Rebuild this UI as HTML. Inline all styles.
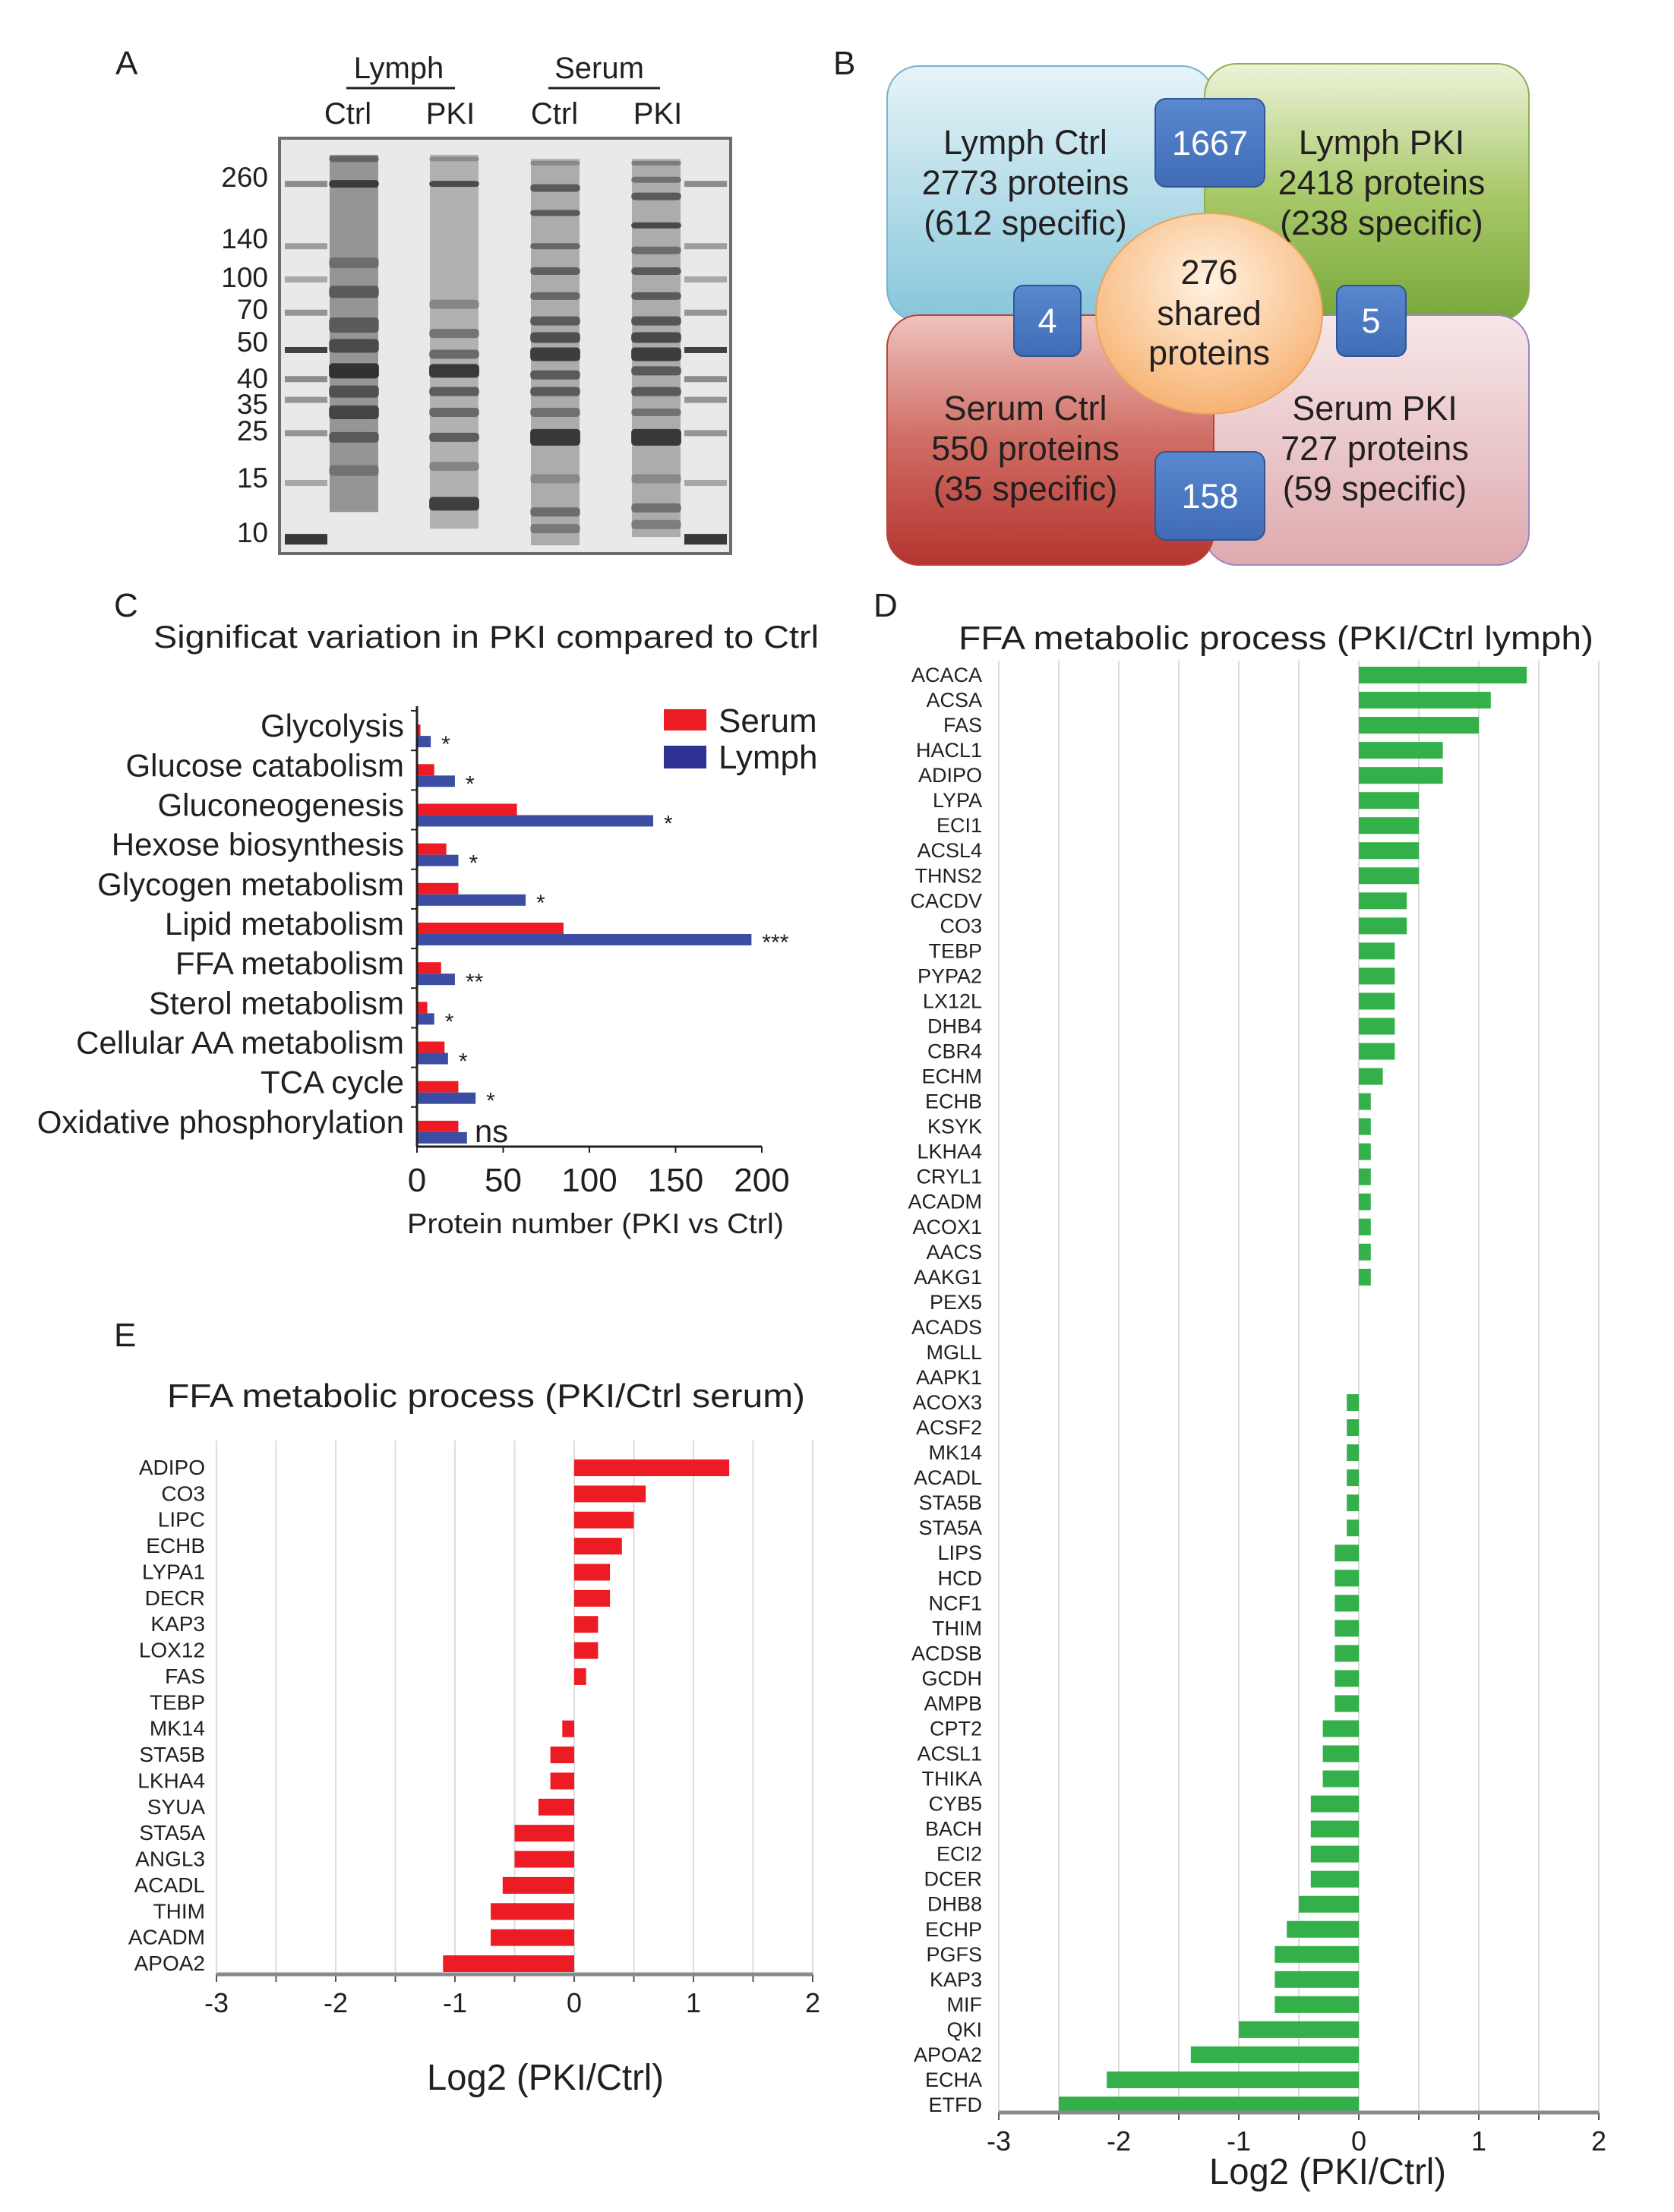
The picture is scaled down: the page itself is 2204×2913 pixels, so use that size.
<!DOCTYPE html>
<html><head><meta charset="utf-8">
<style>
html,body{margin:0;padding:0;background:#fff;}
svg{display:block;}
text{font-family:"Liberation Sans",Arial,sans-serif;fill:#231f20;}
.nar{font-family:"Liberation Sans Narrow","Liberation Sans",sans-serif;}
</style></head>
<body>
<svg id="fig" width="2204" height="2913" viewBox="0 0 2204 2913" xmlns="http://www.w3.org/2000/svg">
<defs>
  <linearGradient id="gBlue" x1="0" y1="0" x2="0" y2="1"><stop offset="0" stop-color="#e6f4f8"/><stop offset="1" stop-color="#86c6da"/></linearGradient>
  <linearGradient id="gGreen" x1="0" y1="0" x2="0" y2="1"><stop offset="0" stop-color="#eef3da"/><stop offset="0.5" stop-color="#a9c96a"/><stop offset="1" stop-color="#77a83a"/></linearGradient>
  <linearGradient id="gRed" x1="0" y1="0" x2="0" y2="1"><stop offset="0" stop-color="#efc3bd"/><stop offset="0.5" stop-color="#cf6d64"/><stop offset="1" stop-color="#b5342f"/></linearGradient>
  <linearGradient id="gPink" x1="0" y1="0" x2="0" y2="1"><stop offset="0" stop-color="#f7e7e8"/><stop offset="1" stop-color="#deaaae"/></linearGradient>
  <radialGradient id="gCirc" cx="0.5" cy="0.35" r="0.7"><stop offset="0" stop-color="#fff2e0"/><stop offset="1" stop-color="#f6ad6a"/></radialGradient>
  <linearGradient id="gBox" x1="0" y1="0" x2="0" y2="1"><stop offset="0" stop-color="#5a88cf"/><stop offset="1" stop-color="#3f6cb5"/></linearGradient>
</defs>

<!-- Panel A -->
<g>
  <text x="152" y="98" font-size="44">A</text>
  <text x="525" y="103" font-size="40" text-anchor="middle">Lymph</text>
  <line x1="456" y1="116" x2="599" y2="116" stroke="#231f20" stroke-width="3"/>
  <text x="789" y="103" font-size="40" text-anchor="middle">Serum</text>
  <line x1="722" y1="116" x2="869" y2="116" stroke="#231f20" stroke-width="3"/>
  <text x="458" y="163" font-size="40" text-anchor="middle">Ctrl</text>
  <text x="593" y="163" font-size="40" text-anchor="middle">PKI</text>
  <text x="730" y="163" font-size="40" text-anchor="middle">Ctrl</text>
  <text x="866" y="163" font-size="40" text-anchor="middle">PKI</text>
  <g id="gel"></g>
  <g id="markers"></g>
</g>

<!-- Panel B -->
<g>
  <text x="1097" y="98" font-size="44">B</text>
  <rect x="1168" y="87" width="430" height="336" rx="42" fill="url(#gBlue)" stroke="#7ab0d0" stroke-width="2"/>
  <rect x="1586" y="84" width="427" height="339" rx="42" fill="url(#gGreen)" stroke="#8cb050" stroke-width="2"/>
  <rect x="1586" y="415" width="427" height="329" rx="42" fill="url(#gPink)" stroke="#9a86c0" stroke-width="2"/>
  <rect x="1168" y="415" width="430" height="329" rx="42" fill="url(#gRed)" stroke="#b9423c" stroke-width="2"/>
  <ellipse cx="1592" cy="413" rx="149" ry="132" fill="url(#gCirc)" stroke="#e8a45e" stroke-width="2"/>
  <g font-size="45" text-anchor="middle">
    <text x="1350" y="203">Lymph Ctrl</text><text x="1350" y="256">2773 proteins</text><text x="1350" y="309">(612 specific)</text>
    <text x="1819" y="203">Lymph PKI</text><text x="1819" y="256">2418 proteins</text><text x="1819" y="309">(238 specific)</text>
    <text x="1350" y="553">Serum Ctrl</text><text x="1350" y="606">550 proteins</text><text x="1350" y="659">(35 specific)</text>
    <text x="1810" y="553">Serum PKI</text><text x="1810" y="606">727 proteins</text><text x="1810" y="659">(59 specific)</text>
    <text x="1592" y="374">276</text><text x="1592" y="428">shared</text><text x="1592" y="480">proteins</text>
  </g>
  <rect x="1521" y="130" width="144" height="116" rx="14" fill="url(#gBox)" stroke="#2f5597" stroke-width="2"/>
  <rect x="1335" y="376" width="88" height="93" rx="12" fill="url(#gBox)" stroke="#2f5597" stroke-width="2"/>
  <rect x="1760" y="376" width="91" height="93" rx="12" fill="url(#gBox)" stroke="#2f5597" stroke-width="2"/>
  <rect x="1521" y="595" width="144" height="116" rx="14" fill="url(#gBox)" stroke="#2f5597" stroke-width="2"/>
  <g font-size="45" text-anchor="middle" style="fill:#fff">
    <text x="1593" y="204" style="fill:#fff">1667</text>
    <text x="1379" y="438" style="fill:#fff">4</text>
    <text x="1805" y="438" style="fill:#fff">5</text>
    <text x="1593" y="669" style="fill:#fff">158</text>
  </g>
</g>

<!-- Panel C -->
<g id="panelC">
  <text x="150" y="812" font-size="44">C</text>
  <text x="640" y="853" font-size="42" text-anchor="middle" textLength="876" lengthAdjust="spacingAndGlyphs">Significat variation in PKI compared to Ctrl</text>
  <rect x="874" y="934" width="56" height="28" fill="#ed1c24"/>
  <text x="946" y="964" font-size="44">Serum</text>
  <rect x="874" y="982" width="56" height="30" fill="#2e3192"/>
  <text x="946" y="1012" font-size="44">Lymph</text>
  <text x="784" y="1624" font-size="37" text-anchor="middle" textLength="496" lengthAdjust="spacingAndGlyphs">Protein number (PKI vs Ctrl)</text>
</g>

<!-- Panel D -->
<g id="panelD">
  <text x="1150" y="812" font-size="44">D</text>
  <text x="1680" y="855" font-size="44" text-anchor="middle" textLength="836" lengthAdjust="spacingAndGlyphs">FFA metabolic process (PKI/Ctrl lymph)</text>
  <text x="1748" y="2876" font-size="48" text-anchor="middle" textLength="312" lengthAdjust="spacingAndGlyphs">Log2 (PKI/Ctrl)</text>
</g>

<!-- Panel E -->
<g id="panelE">
  <text x="150" y="1773" font-size="44">E</text>
  <text x="640" y="1853" font-size="44" text-anchor="middle" textLength="840" lengthAdjust="spacingAndGlyphs">FFA metabolic process (PKI/Ctrl serum)</text>
  <text x="718" y="2752" font-size="48" text-anchor="middle" textLength="312" lengthAdjust="spacingAndGlyphs">Log2 (PKI/Ctrl)</text>
</g>
</svg>

<script>
// ---------- Panel C data ----------
const cCategories = ["Glycolysis","Glucose catabolism","Gluconeogenesis","Hexose biosynthesis","Glycogen metabolism","Lipid metabolism","FFA metabolism","Sterol metabolism","Cellular AA metabolism","TCA cycle","Oxidative phosphorylation"];
const cSerum = [2,10,58,17,24,85,14,6,16,24,24];
const cLymph = [8,22,137,24,63,194,22,10,18,34,29];
const cSig = ["*","*","*","*","*","***","**","*","*","*","ns"];
const cTicks = [0,50,100,150,200];

// ---------- Panel D data ----------
const dLabels = ["ACACA","ACSA","FAS","HACL1","ADIPO","LYPA","ECI1","ACSL4","THNS2","CACDV","CO3","TEBP","PYPA2","LX12L","DHB4","CBR4","ECHM","ECHB","KSYK","LKHA4","CRYL1","ACADM","ACOX1","AACS","AAKG1","PEX5","ACADS","MGLL","AAPK1","ACOX3","ACSF2","MK14","ACADL","STA5B","STA5A","LIPS","HCD","NCF1","THIM","ACDSB","GCDH","AMPB","CPT2","ACSL1","THIKA","CYB5","BACH","ECI2","DCER","DHB8","ECHP","PGFS","KAP3","MIF","QKI","APOA2","ECHA","ETFD"];
const dValues = [1.4,1.1,1.0,0.7,0.7,0.5,0.5,0.5,0.5,0.4,0.4,0.3,0.3,0.3,0.3,0.3,0.2,0.1,0.1,0.1,0.1,0.1,0.1,0.1,0.1,0,0,0,0,-0.1,-0.1,-0.1,-0.1,-0.1,-0.1,-0.2,-0.2,-0.2,-0.2,-0.2,-0.2,-0.2,-0.3,-0.3,-0.3,-0.4,-0.4,-0.4,-0.4,-0.5,-0.6,-0.7,-0.7,-0.7,-1.0,-1.4,-2.1,-2.5];
const dTicks = [-3,-2,-1,0,1,2];

// ---------- Panel E data ----------
const eLabels = ["ADIPO","CO3","LIPC","ECHB","LYPA1","DECR","KAP3","LOX12","FAS","TEBP","MK14","STA5B","LKHA4","SYUA","STA5A","ANGL3","ACADL","THIM","ACADM","APOA2"];
const eValues = [1.3,0.6,0.5,0.4,0.3,0.3,0.2,0.2,0.1,0,-0.1,-0.2,-0.2,-0.3,-0.5,-0.5,-0.6,-0.7,-0.7,-1.1];
const eTicks = [-3,-2,-1,0,1,2];

// ---------- Gel marker labels ----------
const mwLabels = ["260","140","100","70","50","40","35","25","15","10"];
const mwY = [233,314,365,407,450,498,532,567,629,701];

const NS="http://www.w3.org/2000/svg";
function el(tag, attrs, parent, txt){
  const e=document.createElementNS(NS,tag);
  for(const k in attrs) e.setAttribute(k,attrs[k]);
  if(txt!==undefined) e.textContent=txt;
  parent.appendChild(e); return e;
}

// ===== Gel =====
(function(){
  const g=document.getElementById('gel');
  const gx=368,gy=182,gw=594,gh=547;
  const bg=el('rect',{x:gx,y:gy,width:gw,height:gh,fill:'#e9e9e9',stroke:'#6d6d6d','stroke-width':4},g);
  
  
  const ladderBands=[0.11,0.26,0.34,0.42,0.51,0.58,0.63,0.71,0.83,0.96];
  const ladderDark=[0.5,0.4,0.35,0.45,0.9,0.5,0.45,0.45,0.35,0.95];
  [403,929].forEach((cx,li)=>{
    ladderBands.forEach((f,i)=>{
      el('rect',{x:cx-28,y:gy+f*gh-4,width:56,height:i==9?14:8,fill:'#000',opacity:ladderDark[i]*0.8},g);
    });
  });
  const lanes=[
    {cx:466,top:0.04,bot:0.9,smear:0.42,bands:[[0.05,0.5,8],[0.11,0.9,10],[0.3,0.4,14],[0.37,0.6,16],[0.45,0.6,20],[0.5,0.75,18],[0.56,1,20],[0.61,0.7,16],[0.66,0.8,18],[0.72,0.6,14],[0.8,0.35,14]]},
    {cx:598,top:0.04,bot:0.94,smear:0.28,bands:[[0.05,0.3,6],[0.11,0.85,8],[0.4,0.35,12],[0.47,0.5,12],[0.52,0.6,12],[0.56,1,18],[0.61,0.7,12],[0.66,0.6,12],[0.72,0.7,12],[0.79,0.35,12],[0.88,0.95,18]]},
    {cx:731,top:0.05,bot:0.98,smear:0.3,bands:[[0.06,0.3,6],[0.12,0.7,10],[0.18,0.7,8],[0.26,0.6,8],[0.32,0.65,10],[0.38,0.6,10],[0.44,0.7,12],[0.48,0.8,14],[0.52,0.95,18],[0.57,0.7,12],[0.61,0.7,12],[0.66,0.5,12],[0.72,1,22],[0.82,0.3,12],[0.9,0.55,12],[0.94,0.45,12]]},
    {cx:864,top:0.05,bot:0.96,smear:0.3,bands:[[0.06,0.4,6],[0.1,0.5,8],[0.14,0.7,10],[0.21,0.85,8],[0.27,0.55,10],[0.32,0.7,10],[0.38,0.7,10],[0.44,0.75,12],[0.48,0.85,14],[0.52,0.95,18],[0.56,0.7,12],[0.61,0.7,12],[0.66,0.5,10],[0.72,1,22],[0.82,0.3,12],[0.89,0.5,12],[0.93,0.4,12]]}
  ];
  lanes.forEach(L=>{
    el('rect',{x:L.cx-32,y:gy+L.top*gh,width:64,height:(L.bot-L.top)*gh,fill:'#222',opacity:L.smear},g);
    L.bands.forEach(b=>{
      el('rect',{x:L.cx-33,y:gy+b[0]*gh-b[2]/2,width:66,height:b[2],rx:5,fill:'#111',opacity:b[1]*0.75},g);
    });
  });
  const m=document.getElementById('markers');
  mwLabels.forEach((t,i)=>{
    const tx=el('text',{x:353,y:mwY[i]+13,'font-size':37,'text-anchor':'end'},m,t);
    
    
  });
})();

// ===== Panel C =====
(function(){
  const g=document.getElementById('panelC');
  const x0=549, x1=1003, yTop=936, yBot=1510;
  const xs=v=>x0+(v-cTicks[0])/(cTicks[cTicks.length-1]-cTicks[0])*(x1-x0);
  const rowH=(yBot-yTop)/cCategories.length;
  const rc=i=>yTop+rowH*(i+0.5);
  cCategories.forEach((c,i)=>{
    const y=rc(i);
    const lab=el('text',{x:532,y:y+8,'font-size':42,'text-anchor':'end'},g,c);
    
    
    const rb=el('rect',{x:x0,y:y-8,width:xs(cSerum[i])-x0,height:15,fill:'#ed1c24'},g);
    
    
    const bb=el('rect',{x:x0,y:y+7,width:xs(cLymph[i])-x0,height:15,fill:'#3b4ea3'},g);
    
    
    const isNs=cSig[i]==='ns';
    const endX=Math.max(xs(cLymph[i]),xs(cSerum[i]));
    const st=el('text',{x:endX+(isNs?10:14),y:isNs?y+20:y+28,'font-size':isNs?42:30},g,cSig[i]);
    
    
    el('line',{x1:x0-8,x2:x0,y1:yTop+rowH*i,y2:yTop+rowH*i,stroke:'#231f20','stroke-width':2},g);
  });
  const ya=el('line',{x1:x0,x2:x0,y1:yTop-6,y2:yBot,stroke:'#231f20','stroke-width':3},g);
  
  
  const xa=el('line',{x1:x0,x2:x1,y1:yBot,y2:yBot,stroke:'#231f20','stroke-width':3},g);
  
  
  cTicks.forEach(t=>{
    el('line',{x1:xs(t),x2:xs(t),y1:yBot,y2:yBot+8,stroke:'#231f20','stroke-width':2},g);
    const tl=el('text',{x:xs(t),y:1569,'font-size':44,'text-anchor':'middle'},g,String(t));
    
    
  });
})();

// ===== Horizontal diverging bar chart =====
function divChart(gid, labels, values, ticks, cfg){
  const g=document.getElementById(gid);
  const xs=v=>cfg.xL+(v-ticks[0])/(ticks[ticks.length-1]-ticks[0])*(cfg.xR-cfg.xL);
  for(let v=ticks[0]; v<=ticks[ticks.length-1]+1e-9; v+=0.5){
    el('line',{x1:xs(v),x2:xs(v),y1:cfg.gridTop,y2:cfg.axisY,stroke:'#dcdcdc','stroke-width':2},g);
    el('line',{x1:xs(v),x2:xs(v),y1:cfg.axisY,y2:cfg.axisY+10,stroke:'#555','stroke-width':2},g);
  }
  const step=(cfg.lastC-cfg.firstC)/(labels.length-1);
  labels.forEach((l,i)=>{
    const y=cfg.firstC+i*step;
    const t=el('text',{x:cfg.labX,y:y+9,'font-size':cfg.labFs,'text-anchor':'end','class':'nar'},g,l);
    
    
    const v=values[i];
    if(v!==0){
      const b=el('rect',{x:Math.min(xs(0),xs(v)),y:y-cfg.barH/2,width:Math.abs(xs(v)-xs(0)),height:cfg.barH,fill:cfg.color},g);
      
      
    }
  });
  const ax=el('line',{x1:xs(ticks[0]),x2:xs(ticks[ticks.length-1]),y1:cfg.axisY,y2:cfg.axisY,stroke:'#8a8a8a','stroke-width':5},g);
  
  
  ticks.forEach(t=>{
    const tl=el('text',{x:xs(t),y:cfg.tickY,'font-size':36,'text-anchor':'middle'},g,String(t));
    
    
  });
}
divChart('panelD', dLabels, dValues, dTicks, {xL:1315,xR:2105,gridTop:870,axisY:2782,firstC:889,lastC:2772,barH:22,labX:1293,labFs:27,color:'#33b04a',tickY:2832});
divChart('panelE', eLabels, eValues, eTicks, {xL:285,xR:1070,gridTop:1897,axisY:2600,firstC:1933,lastC:2586,barH:22,labX:270,labFs:28,color:'#ed1c24',tickY:2650});
</script>
</body></html>
